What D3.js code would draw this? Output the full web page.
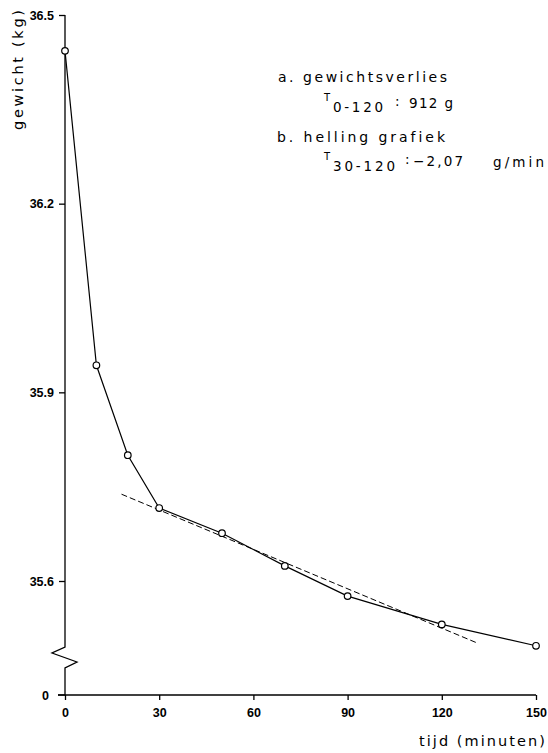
<!DOCTYPE html>
<html>
<head>
<meta charset="utf-8">
<script src="https://cdn.jsdelivr.net/npm/d3@7"></script>
<style>
  body { margin: 0; background: #fff; }
  svg { display: block; }
  .tick text { font-family: "Liberation Sans", Arial, sans-serif; font-weight: bold; font-size: 12.5px; fill: #000; }
  .lbl { font-family: "DejaVu Sans", sans-serif; fill: #000; font-variant-ligatures: none; }
</style>
</head>
<body>
<div id="chart"></div>
<script>
// meetpunten (tijd in minuten, gewicht in kg)
const times = [0, 10, 20, 30, 50, 70, 90, 120, 150];
const weights = [36.443, 35.943, 35.800, 35.716, 35.676, 35.624, 35.576, 35.531, 35.497];

// gestippelde hellingslijn T30-120
const fitTimes = [18, 131];
const fitWeights = [35.738, 35.502];

const xTicks = [0, 30, 60, 90, 120, 150];
const yTicks = [36.5, 36.2, 35.9, 35.6];

const width = 548, height = 753;
const axisX = 65, axisBottom = 695, breakTop = 647;

const svg = d3.select('#chart').append('svg')
  .attr('width', width)
  .attr('height', height);

const x = d3.scaleLinear().domain([0, 150]).range([axisX, 536]);
const y = d3.scaleLinear().domain([35.6, 36.5]).range([581, 15]);

// y-as met onderbreking
const yAxis = svg.append('g')
  .attr('transform', `translate(${axisX},0)`)
  .call(d3.axisLeft(y).tickValues(yTicks).tickSize(6).tickPadding(5).tickFormat(d3.format('.1f')));
yAxis.select('.domain').remove();
yAxis.selectAll('.tick line').attr('stroke', '#000').attr('stroke-width', 1.3);

const breakPath = d3.path();
breakPath.moveTo(axisX, y(36.5));
breakPath.lineTo(axisX, breakTop);
breakPath.lineTo(axisX - 13, breakTop + 6);
breakPath.lineTo(axisX + 12, breakTop + 15);
breakPath.lineTo(axisX, breakTop + 21);
breakPath.lineTo(axisX, axisBottom);
svg.append('path')
  .attr('d', breakPath.toString())
  .attr('fill', 'none')
  .attr('stroke', '#000')
  .attr('stroke-width', 1.3);

// nul-streepje op de y-as
svg.append('line')
  .attr('x1', axisX - 7).attr('x2', axisX)
  .attr('y1', axisBottom).attr('y2', axisBottom)
  .attr('stroke', '#000').attr('stroke-width', 1.3);
svg.append('text')
  .attr('x', axisX - 16).attr('y', axisBottom)
  .attr('dy', '0.36em')
  .attr('text-anchor', 'end')
  .style('font-family', '"Liberation Sans", Arial, sans-serif')
  .style('font-weight', 'bold')
  .style('font-size', '12.5px')
  .text('0');

// x-as
const xAxis = svg.append('g')
  .attr('transform', `translate(0,${axisBottom})`)
  .call(d3.axisBottom(x).tickValues(xTicks).tickSize(5).tickPadding(8));
xAxis.select('.domain').remove();
xAxis.selectAll('.tick line').attr('stroke', '#000').attr('stroke-width', 1.3);
svg.append('line')
  .attr('x1', axisX - 7).attr('x2', x(150))
  .attr('y1', axisBottom).attr('y2', axisBottom)
  .attr('stroke', '#000').attr('stroke-width', 1.3);

// hellingslijn
svg.append('line')
  .attr('x1', x(fitTimes[0])).attr('y1', y(fitWeights[0]))
  .attr('x2', x(fitTimes[1])).attr('y2', y(fitWeights[1]))
  .attr('stroke', '#000')
  .attr('stroke-width', 1)
  .attr('stroke-dasharray', '6,3');

// meetlijn
const pts = times.map((t, i) => [t, weights[i]]);
const line = d3.line().x(d => x(d[0])).y(d => y(d[1]));
svg.append('path')
  .datum(pts)
  .attr('d', line)
  .attr('fill', 'none')
  .attr('stroke', '#000')
  .attr('stroke-width', 1.2);

svg.selectAll('circle.pt')
  .data(pts)
  .enter()
  .append('circle')
  .attr('class', 'pt')
  .attr('cx', d => x(d[0]))
  .attr('cy', d => y(d[1]))
  .attr('r', 3.3)
  .attr('fill', '#fff')
  .attr('stroke', '#000')
  .attr('stroke-width', 1.2);

// tekst met vaste breedte zoals in het origineel
function label(g, tx, ty, size, w, str) {
  const t = g.append('text')
    .attr('x', tx).attr('y', ty)
    .style('font-size', size + 'px')
    .text(str);
  if (w) t.attr('textLength', w).attr('lengthAdjust', 'spacing');
  return t;
}

// as-titels
const titles = svg.append('g').attr('class', 'lbl');
label(titles, 0, 0, 14.5, 120, 'gewicht (kg)')
  .attr('transform', 'translate(23,130) rotate(-90)');
label(titles, 419, 746, 14.5, 126, 'tijd (minuten)');

// annotatie
const note = svg.append('g').attr('class', 'lbl');
label(note, 278, 82, 14, 169, 'a. gewichtsverlies');
label(note, 324, 101, 10, 0, 'T');
label(note, 333, 112, 13.5, 50, '0-120');
label(note, 395, 106, 13.5, 0, ':');
label(note, 409, 108, 13.5, 44, '912 g');

label(note, 277, 142, 14, 168, 'b. helling grafiek');
label(note, 324, 160, 10, 0, 'T');
label(note, 333, 171, 13.5, 62, '30-120');
label(note, 405, 164, 13.5, 0, ':');
label(note, 413, 166, 13.5, 50, '−2,07');
label(note, 493, 167, 13.5, 51, 'g/min');
</script>
</body>
</html>
